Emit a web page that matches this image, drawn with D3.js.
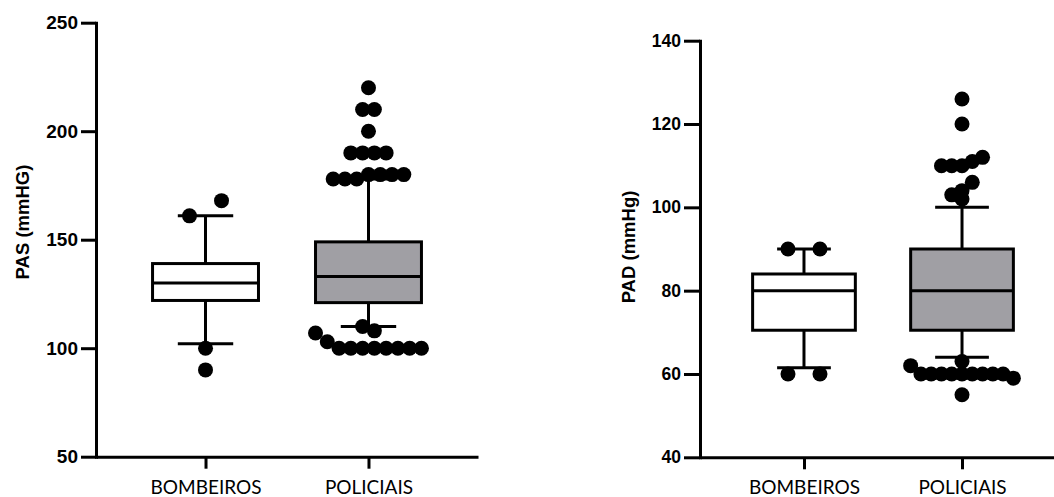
<!DOCTYPE html>
<html>
<head>
<meta charset="utf-8">
<script src="https://cdn.jsdelivr.net/npm/d3@7"></script>
<style>
  html, body { margin: 0; padding: 0; background: #fff; }
  svg { display: block; }
</style>
</head>
<body>
<svg id="chart" width="1054" height="497"></svg>
<script>
// ---------------- DATA ----------------
const categories = ["BOMBEIROS", "POLICIAIS"];

// Left panel: PAS (mmHG)
const pasTicks = [50, 100, 150, 200, 250];
const pasWhiskerLow  = [102, 110];
const pasQ1          = [122, 121];
const pasMedian      = [130, 133];
const pasQ3          = [139, 149];
const pasWhiskerHigh = [161, 178];
const pasOutliersBombeiros = [168, 161, 100, 90];
const pasOutliersPoliciais = [220, 210, 210, 200, 190, 190, 190, 190,
                              180, 178, 180, 178, 180, 178, 180,
                              110, 108, 107, 103, 100, 100, 100, 100, 100, 100, 100, 100];

// Right panel: PAD (mmHg)
const padTicks = [40, 60, 80, 100, 120, 140];
const padWhiskerLow  = [61.5, 64];
const padQ1          = [70.5, 70.5];
const padMedian      = [80, 80];
const padQ3          = [84, 90];
const padWhiskerHigh = [90, 100];
const padOutliersBombeiros = [90, 90, 60, 60];
const padOutliersPoliciais = [126, 120, 112, 111, 110, 110, 110, 106, 104, 103, 102,
                              63, 62, 60, 60, 60, 60, 60, 60, 60, 60, 60, 59, 55];

// ---------------- DRAW ----------------
const svg = d3.select("#chart");

function drawPanel(cfg) {
  const g = svg.append("g");
  const y = d3.scaleLinear().domain(cfg.yDomain).range([cfg.yBottom, cfg.yTop]);
  const x = d3.scalePoint().domain(categories).range([cfg.xLeft, cfg.xRight]).padding(cfg.pad);
  const step = x.step();
  const boxHalf = step * 0.325;
  const capHalf = step * 0.17;
  const r = 7.5;

  // x axis
  const xAxis = g.append("g")
    .attr("transform", `translate(0,${cfg.yBottom})`)
    .call(d3.axisBottom(x).tickSize(12).tickSizeOuter(0));
  xAxis.select(".domain").attr("stroke", "#000").attr("stroke-width", 3);
  xAxis.selectAll(".tick line").attr("stroke", "#000").attr("stroke-width", 3);
  xAxis.selectAll(".tick text")
    .attr("dy", null).attr("y", 37)
    .attr("fill", "#000")
    .style("font-family", "Lato, 'Open Sans', sans-serif")
    .style("font-size", "19px");

  // y axis
  const yAxis = g.append("g")
    .attr("transform", `translate(${cfg.xLeft},0)`)
    .call(d3.axisLeft(y).tickValues(cfg.ticks).tickSize(cfg.tickSize).tickSizeOuter(0).tickPadding(3));
  yAxis.select(".domain").attr("stroke", "#000").attr("stroke-width", 3).attr("stroke-linecap", "square");
  yAxis.selectAll(".tick line").attr("stroke", "#000").attr("stroke-width", 3);
  yAxis.selectAll(".tick text")
    .attr("fill", "#000")
    .style("font-family", "'Liberation Sans', Arial, sans-serif")
    .style("font-weight", "bold")
    .style("font-size", cfg.tickFont + "px");

  // y title
  g.append("text")
    .attr("transform", `translate(${cfg.titleX},${cfg.titleY}) rotate(-90)`)
    .attr("text-anchor", "middle")
    .style("font-family", "'Liberation Sans', Arial, sans-serif")
    .style("font-weight", "bold")
    .style("font-size", cfg.titleFont + "px")
    .text(cfg.title);

  categories.forEach((cat, i) => {
    const cx = x(cat);
    const lw = 3;
    // whiskers
    g.append("line").attr("x1", cx).attr("x2", cx)
      .attr("y1", y(cfg.q3[i])).attr("y2", y(cfg.hi[i]))
      .attr("stroke", "#000").attr("stroke-width", lw);
    g.append("line").attr("x1", cx).attr("x2", cx)
      .attr("y1", y(cfg.q1[i])).attr("y2", y(cfg.lo[i]))
      .attr("stroke", "#000").attr("stroke-width", lw);
    g.append("line").attr("x1", cx - capHalf).attr("x2", cx + capHalf)
      .attr("y1", y(cfg.hi[i])).attr("y2", y(cfg.hi[i]))
      .attr("stroke", "#000").attr("stroke-width", lw);
    g.append("line").attr("x1", cx - capHalf).attr("x2", cx + capHalf)
      .attr("y1", y(cfg.lo[i])).attr("y2", y(cfg.lo[i]))
      .attr("stroke", "#000").attr("stroke-width", lw);
    // box
    g.append("rect")
      .attr("x", cx - boxHalf).attr("width", boxHalf * 2)
      .attr("y", y(cfg.q3[i])).attr("height", y(cfg.q1[i]) - y(cfg.q3[i]))
      .attr("fill", cfg.fills[i]).attr("stroke", "#000").attr("stroke-width", lw);
    g.append("line").attr("x1", cx - boxHalf).attr("x2", cx + boxHalf)
      .attr("y1", y(cfg.med[i])).attr("y2", y(cfg.med[i]))
      .attr("stroke", "#000").attr("stroke-width", lw);

    // outliers: group into rows, spread symmetrically
    const vals = cfg.outliers[i];
    const thr = 15.5;
    const upper = vals.filter(v => v >= cfg.med[i]).sort((a, b) => b - a);
    const lower = vals.filter(v => v < cfg.med[i]).sort((a, b) => a - b);
    const rows = [];
    [[upper, true], [lower, false]].forEach(([list, isUpper]) => {
      let row = null;
      list.forEach(v => {
        if (row && Math.abs(y(v) - y(row.vals[0])) <= thr) row.vals.push(v);
        else { row = { vals: [v], isUpper }; rows.push(row); }
      });
    });
    const maxRow = d3.max(rows, rw => rw.vals.length) || 1;
    const s = maxRow > 1 ? Math.min(32, (boxHalf * 2) / (maxRow - 1)) : 0;
    const pts = [];
    rows.forEach(rw => {
      const sortedRow = rw.vals.slice().sort((a, b) => rw.isUpper ? a - b : b - a);
      sortedRow.forEach((v, k) => pts.push({ v, dx: (k - (sortedRow.length - 1) / 2) * s }));
    });
    g.selectAll(null).data(pts).enter().append("circle")
      .attr("cx", d => cx + d.dx).attr("cy", d => y(d.v)).attr("r", r)
      .attr("fill", "#000");
  });
}

drawPanel({
  yDomain: [50, 250], yBottom: 456.7, yTop: 22.7,
  xLeft: 96, xRight: 478, pad: 0.672,
  ticks: pasTicks, tickSize: 15, tickFont: 19,
  title: "PAS (mmHG)", titleX: 29, titleY: 222, titleFont: 18.5,
  lo: pasWhiskerLow, q1: pasQ1, med: pasMedian, q3: pasQ3, hi: pasWhiskerHigh,
  fills: ["#ffffff", "#a09fa4"],
  outliers: [pasOutliersBombeiros, pasOutliersPoliciais]
});

drawPanel({
  yDomain: [40, 140], yBottom: 457.3, yTop: 40.7,
  xLeft: 700, xRight: 1066, pad: 0.658,
  ticks: padTicks, tickSize: 16, tickFont: 17.5,
  title: "PAD (mmHg)", titleX: 635, titleY: 247, titleFont: 18.5,
  lo: padWhiskerLow, q1: padQ1, med: padMedian, q3: padQ3, hi: padWhiskerHigh,
  fills: ["#ffffff", "#a09fa4"],
  outliers: [padOutliersBombeiros, padOutliersPoliciais]
});
</script>
</body>
</html>
